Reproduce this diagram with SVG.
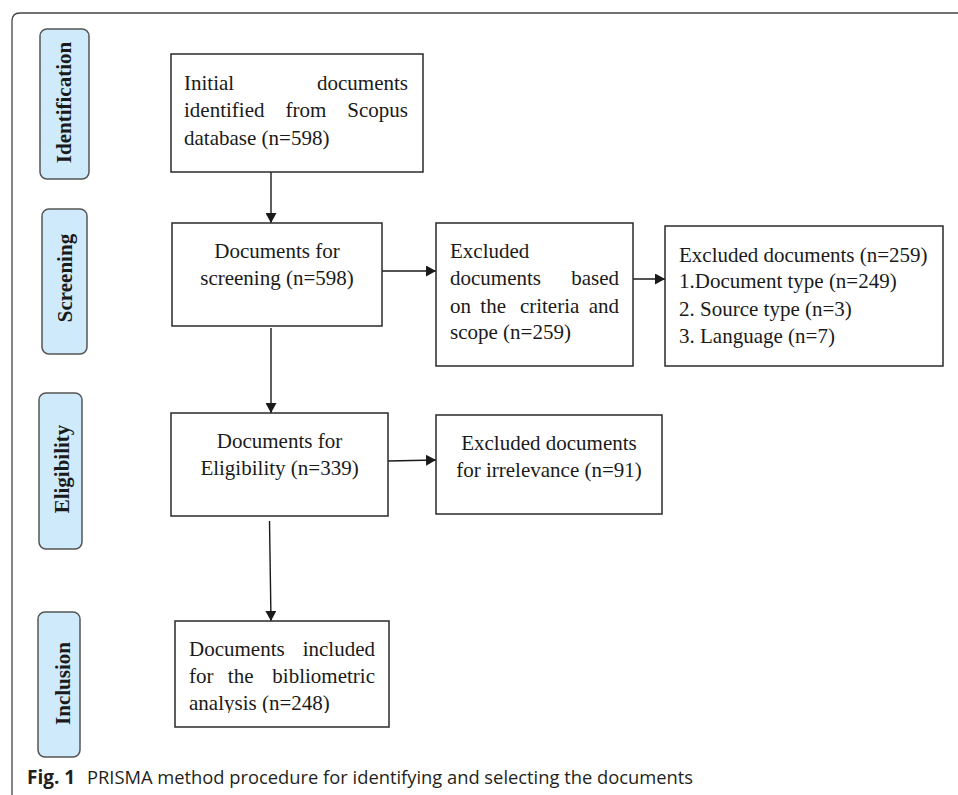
<svg xmlns="http://www.w3.org/2000/svg" width="958" height="795" viewBox="0 0 958 795">
  <style>
    .box { fill: #ffffff; stroke: #2a2a2a; stroke-width: 1.5; }
    .pill { fill: #cfeafb; stroke: #555555; stroke-width: 1.5; }
    .t { font-family: "Liberation Serif", "Times New Roman", serif; font-size: 21px; fill: #1a1a1a; }
    .c { text-anchor: middle; }
    .e { text-anchor: end; }
    .stage { font-family: "Liberation Serif", "Times New Roman", serif; font-size: 21px; font-weight: bold; fill: #1a1a1a; text-anchor: middle; }
    .conn { stroke: #1a1a1a; stroke-width: 1.4; fill: none; }
    .cap { font-family: "Open Sans", "Noto Sans", sans-serif; font-size: 19px; fill: #231f20; }
  </style>
  <defs>
    <marker id="arrow" viewBox="0 0 10 11" refX="10" refY="5.5" markerWidth="10" markerHeight="11" markerUnits="userSpaceOnUse" orient="auto">
      <path d="M0,0 L10,5.5 L0,11 z" fill="#1a1a1a"/>
    </marker>
    <clipPath id="clip7">
      <rect x="175" y="621" width="214" height="92"/>
    </clipPath>
  </defs>

  <rect width="958" height="795" fill="#ffffff"/>
  <!-- outer frame -->
  <path d="M12,795 L12,21 Q12,13 20,13 L958,13" fill="none" stroke="#444444" stroke-width="1.3"/>

  <!-- stage labels -->
  <g id="stage-identification">
    <rect class="pill" x="40" y="29" width="49" height="150" rx="7"/>
    <text class="stage" transform="translate(71,102.5) rotate(-90)">Identification</text>
  </g>
  <g id="stage-screening">
    <rect class="pill" x="42" y="209" width="45" height="145" rx="7"/>
    <text class="stage" transform="translate(72,278) rotate(-90)">Screening</text>
  </g>
  <g id="stage-eligibility">
    <rect class="pill" x="39" y="393" width="43" height="156" rx="7"/>
    <text class="stage" transform="translate(69,469) rotate(-90)">Eligibility</text>
  </g>
  <g id="stage-inclusion">
    <rect class="pill" x="38" y="612" width="42" height="145" rx="7"/>
    <text class="stage" transform="translate(70,683.5) rotate(-90)">Inclusion</text>
  </g>

  <!-- connectors -->
  <g id="connectors">
    <line class="conn" x1="271" y1="172" x2="271" y2="223" marker-end="url(#arrow)"/>
    <line class="conn" x1="381" y1="271" x2="436" y2="271" marker-end="url(#arrow)"/>
    <line class="conn" x1="632" y1="279" x2="665" y2="279" marker-end="url(#arrow)"/>
    <line class="conn" x1="271" y1="328" x2="271" y2="413" marker-end="url(#arrow)"/>
    <line class="conn" x1="388" y1="461" x2="436" y2="460" marker-end="url(#arrow)"/>
    <line class="conn" x1="269.5" y1="521" x2="271" y2="621" marker-end="url(#arrow)"/>
  </g>

  <g id="node-initial">
    <rect class="box" x="171" y="54" width="252" height="118"/>
    <text class="t" x="184" y="90">Initial</text>
    <text class="t e" x="408" y="90">documents</text>
    <text class="t" x="184" y="117">identified</text>
    <text class="t" x="285.5" y="117">from</text>
    <text class="t e" x="408" y="117">Scopus</text>
    <text class="t" x="184" y="145">database (n=598)</text>
  </g>

  <g id="node-screening">
    <rect class="box" x="172" y="223" width="210" height="103"/>
    <text class="t c" x="277" y="258">Documents for</text>
    <text class="t c" x="277" y="285">screening (n=598)</text>
  </g>

  <g id="node-excluded-criteria">
    <rect class="box" x="436" y="223" width="197" height="143"/>
    <text class="t" x="450" y="258">Excluded</text>
    <text class="t" x="450" y="285">documents</text>
    <text class="t e" x="619" y="285">based</text>
    <text class="t" x="450" y="313">on</text>
    <text class="t" x="480.3" y="313">the</text>
    <text class="t" x="519.9" y="313">criteria</text>
    <text class="t e" x="619" y="313">and</text>
    <text class="t" x="450" y="339">scope (n=259)</text>
  </g>

  <g id="node-excluded-list">
    <rect class="box" x="665" y="226" width="278" height="140"/>
    <text class="t" x="679" y="262">Excluded documents (n=259)</text>
    <text class="t" x="679" y="288">1.Document type (n=249)</text>
    <text class="t" x="679" y="316">2. Source type (n=3)</text>
    <text class="t" x="679" y="343">3. Language (n=7)</text>
  </g>

  <g id="node-eligibility">
    <rect class="box" x="171" y="413" width="217" height="103"/>
    <text class="t c" x="279.5" y="448">Documents for</text>
    <text class="t c" x="279.5" y="475">Eligibility (n=339)</text>
  </g>

  <g id="node-irrelevance">
    <rect class="box" x="436" y="415" width="226" height="99"/>
    <text class="t c" x="549" y="450">Excluded documents</text>
    <text class="t c" x="549" y="477">for irrelevance (n=91)</text>
  </g>

  <g id="node-included">
    <rect class="box" x="175" y="621" width="214" height="106"/>
    <g clip-path="url(#clip7)">
      <text class="t" x="189" y="656">Documents</text>
      <text class="t e" x="375" y="656">included</text>
      <text class="t" x="189" y="683">for</text>
      <text class="t" x="227.8" y="683">the</text>
      <text class="t e" x="375" y="683">bibliometric</text>
      <text class="t" x="189" y="710">analysis (n=248)</text>
    </g>
  </g>

  <g id="caption">
    <text class="cap" x="27" y="784" font-weight="bold">Fig. 1</text>
    <text class="cap" x="87" y="784" textLength="606" lengthAdjust="spacingAndGlyphs">PRISMA method procedure for identifying and selecting the documents</text>
  </g>
</svg>
